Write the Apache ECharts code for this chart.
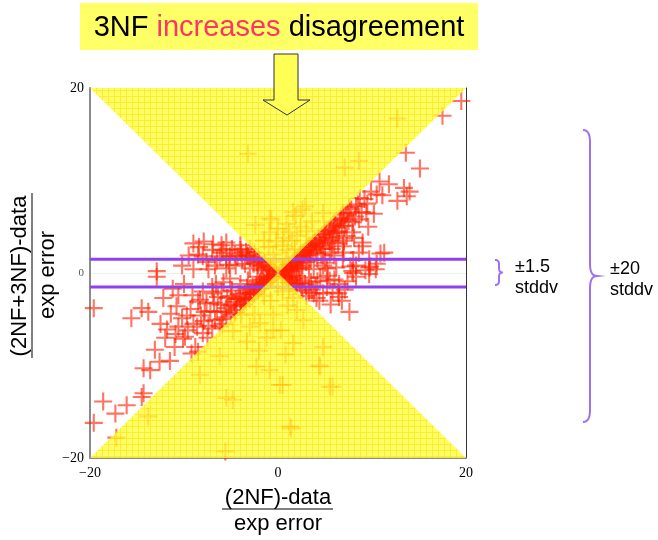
<!DOCTYPE html>
<html>
<head>
<meta charset="utf-8">
<script src="https://cdn.jsdelivr.net/npm/echarts@6/dist/echarts.min.js"></script>
<style>
  html, body { margin: 0; padding: 0; background: #fff; }
  #chart { width: 658px; height: 540px; }
</style>
</head>
<body>
<div id="chart"></div>
<script>
// Axis range and tick labels
const axisMin = -20;
const axisMax = 20;
const tickStep = 20;
// Purple band: ±1.5 standard deviations
const bandHalfWidth = 1.5;

// Scattered errors: [ (2NF)-data , (2NF+3NF)-data ] in units of exp error
const upperRight = [
  [19.5,18.6],[17.5,17.0],[13.6,13.0],[15.1,11.3],[13.4,9.2],[14.0,8.8],[12.7,7.8],[13.7,8.3],
  [11.1,8.4],[9.4,6.5],[8.3,7.2],[7.4,6.5],[6.7,6.0],[11.3,2.2],[9.0,2.9],[8.3,0.8],[9.7,0.6],
  [7.9,0.2],[8.6,5.8],[7.1,5.1],[6.2,4.4],[5.5,4.7],[5.8,3.3],[4.8,2.6],[4.0,2.2],[5.5,2.2],
  [6.9,2.9],[7.9,4.4],[9.0,3.3],[8.6,2.2],[6.9,1.5],[9.7,1.5],[10.4,0.4],[6.2,0.6],[4.8,0.8],
  [3.3,1.5],[2.6,0.8],[1.9,0.4],[9.8,0.7],[10.9,2.1],[8.0,0.0],[9.3,0.3],[7.7,0.7],[10.5,1.0],
  [8.0,1.4],[1.0,0.6],[1.5,1.0],[2.0,1.5],[2.5,1.8],[3.0,2.5],[3.5,2.8],[4.0,3.5],[2.2,0.5],
  [3.0,1.2],[4.5,3.0],[5.0,4.2],[5.5,3.5],[6.0,5.2],[6.5,4.5],[7.0,5.8],[3.8,3.2],[1.2,0.3],
  [2.8,2.0],[4.2,1.5],[5.0,2.8],[6.0,3.8],[7.0,3.5],[8.0,5.5],[9.5,7.5],[10.5,8.5],
  [0.3,0.1],[0.4,0.3],[0.5,0.2],[0.6,0.4],[0.7,0.5],[0.8,0.3],[0.9,0.7],[1.1,0.8],[1.3,0.9],
  [1.4,0.5],[1.6,1.2],[1.7,0.8],[1.9,1.5],[2.1,1.1],[2.3,1.9],[2.4,1.4],[2.6,2.2],[2.7,1.6],
  [2.9,2.4],[3.1,1.9],[3.2,2.8],[3.4,2.2],[3.6,3.1],[3.7,2.5],[3.9,3.4],[4.1,2.9],[4.3,3.8],
  [4.4,3.2],[4.6,4.1],[4.8,3.6],[5.1,4.5],[5.3,3.9],[5.6,5.0],[5.8,4.3],[6.1,5.4],[6.3,4.9],
  [6.6,5.8],[6.8,5.1],[7.2,6.3],[7.5,5.6],[7.8,6.9],[8.2,6.1],[8.5,7.4],[8.9,6.6],[9.2,8.0],
  [1.5,0.2],[2.5,0.6],[3.5,1.4],[4.6,2.0],[5.7,2.6],[6.4,3.2],[7.3,4.0],[3.8,0.4],[5.0,1.1],
  [6.0,1.9],[5.9,5.6],[6.9,6.5],[7.6,7.1],[8.7,8.1],[9.9,8.8],[10.8,9.9],[4.9,4.6],[3.3,3.0],
  [8.1,3.8],[9.6,5.0],[10.2,6.4],[7.0,2.2],[5.2,0.5],[11.8,9.6]
];
const lowerRight = [
  [8.3,-0.4],[9.7,-0.1],[7.6,-4.2],[6.5,-2.6],[5.8,-2.1],[4.4,-3.0],[3.3,-2.1],[2.3,-1.1],
  [5.2,-1.5],[6.4,-2.2],[4.1,-2.7],[1.0,-0.5],[1.5,-0.8],[2.0,-1.2],[2.5,-1.5],[3.0,-2.5],
  [3.5,-1.0],[2.0,-0.3],[4.0,-1.5],[1.2,-1.0],[5.5,-0.8],[6.5,-1.2],[4.5,-0.5],[3.8,-2.2],
  [0.4,-0.2],[0.7,-0.4],[0.9,-0.6],[1.2,-0.4],[1.4,-1.1],[1.7,-0.6],[1.9,-1.4],[2.3,-0.8],
  [2.6,-1.9],[2.9,-1.2],[3.3,-0.5],[3.6,-1.8],[4.2,-0.9],[4.8,-2.2],[5.3,-0.3],[6.0,-0.7],
  [7.1,-1.8],[7.4,-0.9],[5.6,-3.4],[6.8,-3.0]
];
const upperLeft = [
  [-12.9,0.2],[-9.0,0.4],[-5.8,2.5],[-5.1,1.8],[-6.5,1.4],[-3.3,1.9],[-6.0,2.2],[-5.5,1.5],
  [-4.6,2.0],[-3.9,2.2],[-3.2,1.8],[-2.5,1.7],[-2.1,0.8],[-6.7,0.8],[-7.4,0.4],[-1.0,0.6],
  [-1.5,1.2],[-2.0,1.5],[-2.5,2.2],[-3.0,2.6],[-1.8,0.3],[-3.5,1.0],[-4.5,0.8],[-4.0,2.5],
  [-5.5,0.5],[-3.0,0.5],[-6.0,3.0],[-7.0,2.5],[-8.0,1.8],[-8.5,2.0],[-4.0,3.0],[-5.5,3.3],
  [-0.4,0.2],[-0.7,0.4],[-0.9,0.7],[-1.2,0.5],[-1.4,1.0],[-1.7,0.8],[-2.2,1.2],[-2.6,1.0],
  [-2.8,2.0],[-3.4,2.3],[-3.8,1.5],[-4.3,1.8],[-4.9,2.6],[-5.2,0.9],[-6.2,1.8],[-6.9,3.1],
  [-7.6,1.2],[-8.4,2.8],[-9.5,1.9],[-10.2,0.8],[-7.9,3.4],[-9.0,3.2]
];
const lowerLeft = [
  [-12.9,-0.4],[-19.6,-3.8],[-15.6,-4.9],[-14.5,-3.8],[-13.8,-4.2],[-12.2,-2.7],[-10.6,-2.4],
  [-10.2,-4.9],[-10.6,-5.8],[-9.9,-6.9],[-10.1,-7.1],[-11.0,-8.0],[-13.1,-8.3],[-12.6,-9.6],
  [-13.6,-10.5],[-14.3,-10.3],[-8.8,-8.0],[-8.5,-8.5],[-9.2,-8.7],[-18.6,-13.9],[-16.1,-14.3],
  [-17.3,-15.2],[-19.6,-16.2],[-14.3,-13.0],[-14.5,-13.4],[-7.4,-5.7],[-7.8,-4.2],[-8.5,-3.1],
  [-6.0,-2.0],[-5.0,-2.5],[-4.0,-2.8],[-3.0,-1.8],[-2.5,-2.0],[-6.8,-3.2],[-5.5,-3.8],
  [-4.5,-4.0],[-3.5,-3.0],[-7.0,-1.5],[-8.0,-2.0],[-2.0,-1.2],[-1.5,-1.0],[-4.0,-1.2],
  [-5.8,-1.0],[-1.0,-0.8],[-1.5,-1.3],[-2.0,-1.6],[-2.5,-2.2],[-3.0,-2.8],[-3.5,-2.2],
  [-4.0,-3.5],[-4.5,-2.8],[-5.0,-4.5],[-5.5,-4.8],[-6.0,-5.0],[-6.5,-4.2],[-7.0,-6.0],
  [-8.0,-6.5],[-9.0,-5.5],[-7.5,-7.0],[-6.2,-5.8],[-11.5,-9.5],[-12.0,-7.0],[-12.5,-5.5],
  [-0.3,-0.1],[-0.5,-0.3],[-0.6,-0.5],[-0.8,-0.4],[-0.9,-0.7],[-1.1,-0.9],[-1.2,-0.5],
  [-1.4,-1.1],[-1.6,-0.7],[-1.8,-1.5],[-1.9,-1.0],[-2.1,-1.8],[-2.3,-1.3],[-2.6,-2.3],
  [-2.7,-1.5],[-2.9,-2.1],[-3.1,-2.7],[-3.3,-1.6],[-3.4,-2.9],[-3.7,-2.6],[-3.9,-3.3],
  [-4.2,-2.3],[-4.4,-3.6],[-4.7,-3.1],[-4.9,-1.9],[-5.2,-3.5],[-5.4,-2.7],[-5.7,-4.2],
  [-6.1,-3.4],[-6.4,-2.6],[-6.7,-5.1],[-7.2,-4.1],[-7.6,-3.3],[-8.2,-4.6],[-8.6,-5.8],
  [-9.3,-3.9],[-9.6,-6.2],[-10.8,-3.6],[-11.4,-4.4],[-11.8,-6.1],[-9.1,-2.4],[-10.0,-1.2],
  [-11.2,-1.7],[-6.6,-1.2],[-5.1,-0.6],[-3.2,-0.8],[-2.2,-0.4],[-4.6,-4.3],[-5.9,-5.5],
  [-3.6,-3.4],[-7.9,-5.2],[-9.7,-4.6],[-10.9,-6.6],[-6.9,-2.2],[-8.3,-2.9]
];
const coneTop = [
  [12.7,16.7],[7.1,11.4],[8.6,12.1],[-3.2,12.9],[2.6,6.9],[4.8,6.5],[1.9,6.2],[2.9,7.2],
  [1.6,6.6],[-0.9,5.9],[-2.4,5.2],[-0.7,5.8],[-0.9,4.4],[0.5,3.0],[1.0,2.5],[-0.5,2.0],
  [1.5,3.5],[2.0,4.0],[0.0,4.8],[-1.5,3.5],[0.8,1.5],[-0.3,1.2],[1.8,2.6],[3.0,4.5],[-1.0,2.8],
  [0.6,3.8],[1.2,4.4],[2.4,5.0],[-0.2,3.4],[0.9,5.3],[3.6,5.6]
];
const coneBottom = [
  [-8.3,-11.0],[-5.5,-13.5],[-4.8,-13.7],[-5.6,-19.3],[0.2,-12.1],[1.3,-16.6],[5.5,-12.3],
  [4.8,-8.0],[4.5,-10.1],[1.6,-7.6],[-2.3,-10.1],[-0.9,-10.5],[-3.3,-7.4],[-3.9,-4.5],
  [-1.9,-5.4],[-4.8,-6.3],[-0.5,-6.2],[2.7,-5.1],[1.6,-2.7],[-13.8,-15.5],[-17.2,-17.8],
  [4.4,-10.0],[5.8,-12.3],[1.4,-16.8],[0.5,-12.1],[0.3,-6.2],[0.5,-2.0],[-0.8,-3.0],
  [1.0,-3.5],[-1.5,-2.5],[2.0,-4.0],[-2.5,-4.5],[0.0,-1.5],[-0.5,-4.5],[1.2,-1.8],
  [-3.0,-5.8],[-1.2,-7.0],[0.8,-8.8],[-6.2,-9.0],[-2.0,-8.4]
];

const allPoints = [].concat(upperRight, lowerRight, upperLeft, lowerLeft, coneTop, coneBottom);

// Region where |3NF effect| grows: |y| > |x|
const wedgeTop = [[axisMin, axisMax], [0, 0], [axisMax, axisMax]];
const wedgeBottom = [[axisMin, axisMin], [0, 0], [axisMax, axisMin]];

// Small checkered yellow tile for the wedges
function makeTile() {
  const c = document.createElement('canvas');
  c.width = 6; c.height = 6;
  const g = c.getContext('2d');
  g.fillStyle = '#ffff3c';
  g.fillRect(0, 0, 6, 6);
  g.fillStyle = '#ffe600';
  g.fillRect(0, 0, 6, 1);
  g.fillRect(0, 0, 1, 6);
  return c;
}
const tile = makeTile();

// Curly brace "}" as a polyline, from quadratic segments
function bracePoints(xl, xm, xt, yTop, yBot, r) {
  const ym = (yTop + yBot) / 2;
  const pts = [];
  function quad(p0, p1, p2) {
    for (let i = 0; i <= 8; i++) {
      const t = i / 8, u = 1 - t;
      pts.push([u * u * p0[0] + 2 * u * t * p1[0] + t * t * p2[0],
                u * u * p0[1] + 2 * u * t * p1[1] + t * t * p2[1]]);
    }
  }
  quad([xl, yTop], [xm, yTop], [xm, yTop + r]);
  quad([xm, ym - r], [xm, ym], [xt, ym]);
  quad([xt, ym], [xm, ym], [xm, ym + r]);
  quad([xm, yBot - r], [xm, yBot], [xl, yBot]);
  return pts;
}

const crossPath = 'path://M-1.15,-10H1.15V-1.15H10V1.15H1.15V10H-1.15V1.15H-10V-1.15H-1.15Z';
const fmt = v => (v < 0 ? '\u2212' + Math.abs(v) : String(v));

const chart = echarts.init(document.getElementById('chart'), null, { renderer: 'canvas' });

const option = {
  animation: false,
  backgroundColor: '#ffffff',
  grid: { left: 90, right: 192, top: 88, bottom: 82 },
  xAxis: {
    type: 'value', min: axisMin, max: axisMax, interval: tickStep,
    axisLine: { show: true, onZero: false, lineStyle: { color: '#8a8a8a', width: 2 } },
    axisTick: { show: false },
    splitLine: { show: false },
    axisLabel: {
      formatter: fmt, color: '#000', fontSize: 14, margin: 8,
      fontFamily: 'Liberation Serif'
    }
  },
  yAxis: [{
    type: 'value', min: axisMin, max: axisMax, interval: tickStep,
    axisLine: { show: true, onZero: false, lineStyle: { color: '#8a8a8a', width: 2 } },
    axisTick: { show: false },
    splitLine: { show: true, lineStyle: { color: '#eaf5ea', width: 1 } },
    axisLabel: {
      margin: 6,
      fontFamily: 'Liberation Serif',
      formatter: v => (v === 0 ? '{z|0}' : '{n|' + fmt(v) + '}'),
      rich: {
        z: { color: '#555', fontSize: 11, fontFamily: 'Liberation Serif' },
        n: { color: '#000', fontSize: 14, fontFamily: 'Liberation Serif' }
      }
    }
  }, {
    type: 'value', min: axisMin, max: axisMax, interval: tickStep, position: 'right',
    axisLine: { show: true, onZero: false, lineStyle: { color: '#333', width: 1 } },
    axisTick: { show: false }, axisLabel: { show: false }, splitLine: { show: false }
  }],
  series: [
    {
      name: 'errors',
      type: 'scatter',
      z: 2,
      data: allPoints,
      symbol: crossPath,
      symbolSize: 18,
      itemStyle: { color: 'rgba(255,30,0,0.78)' }
    },
    {
      name: 'band+',
      type: 'line', z: 3, symbol: 'none', silent: true,
      data: [[axisMin, bandHalfWidth], [axisMax, bandHalfWidth]],
      lineStyle: { color: '#9140ef', width: 3 }
    },
    {
      name: 'band-',
      type: 'line', z: 3, symbol: 'none', silent: true,
      data: [[axisMin, -bandHalfWidth], [axisMax, -bandHalfWidth]],
      lineStyle: { color: '#9140ef', width: 3 }
    },
    {
      name: 'wedgeTop',
      type: 'line', z: 4, symbol: 'none', silent: true,
      data: wedgeTop,
      lineStyle: { width: 0 },
      areaStyle: { origin: 'end', color: { image: tile, repeat: 'repeat' }, opacity: 0.8 }
    },
    {
      name: 'wedgeBottom',
      type: 'line', z: 4, symbol: 'none', silent: true,
      data: wedgeBottom,
      lineStyle: { width: 0 },
      areaStyle: { origin: 'start', color: { image: tile, repeat: 'repeat' }, opacity: 0.8 }
    }
  ],
  graphic: [
    // Title banner
    {
      type: 'rect', z: 20,
      shape: { x: 80, y: 3, width: 398, height: 47 },
      style: { fill: '#ffff66' }
    },
    {
      type: 'text', z: 21, x: 279, y: 28,
      style: {
        text: '{a|3NF }{b|increases}{a| disagreement}',
        align: 'center', verticalAlign: 'middle',
        rich: {
          a: { fill: '#000', fontSize: 29, fontFamily: 'Liberation Sans' },
          b: { fill: '#ff3366', fontSize: 29, fontFamily: 'Liberation Sans' }
        }
      }
    },
    // Down arrow
    {
      type: 'polygon', z: 20,
      shape: { points: [[274,54],[298,54],[298,100],[310,100],[287,115],[263,100],[274,100]] },
      style: { fill: '#ffff55', stroke: '#333', lineWidth: 1 }
    },
    // Axis titles
    {
      type: 'text', z: 20, x: 278, y: 498,
      style: { text: '(2NF)-data', align: 'center', verticalAlign: 'middle', fill: '#000', fontSize: 22, fontFamily: 'Liberation Sans' }
    },
    {
      type: 'line', z: 20, shape: { x1: 222, y1: 509, x2: 333, y2: 509 },
      style: { stroke: '#000', lineWidth: 1 }
    },
    {
      type: 'text', z: 20, x: 278, y: 524,
      style: { text: 'exp error', align: 'center', verticalAlign: 'middle', fill: '#000', fontSize: 22, fontFamily: 'Liberation Sans' }
    },
    {
      type: 'text', z: 20, x: 20, y: 276, rotation: Math.PI / 2,
      style: { text: '(2NF+3NF)-data', align: 'center', verticalAlign: 'middle', fill: '#000', fontSize: 22, fontFamily: 'Liberation Sans' }
    },
    {
      type: 'line', z: 20, shape: { x1: 32, y1: 193, x2: 32, y2: 358 },
      style: { stroke: '#000', lineWidth: 1 }
    },
    {
      type: 'text', z: 20, x: 48, y: 275, rotation: Math.PI / 2,
      style: { text: 'exp error', align: 'center', verticalAlign: 'middle', fill: '#000', fontSize: 22, fontFamily: 'Liberation Sans' }
    },
    // Braces with annotations
    {
      type: 'polyline', z: 20,
      shape: { points: bracePoints(495, 499, 503, 260, 285, 4) },
      style: { stroke: '#a070f0', lineWidth: 2, fill: null }
    },
    {
      type: 'text', z: 20, x: 515, y: 267,
      style: { text: '\u00b11.5', verticalAlign: 'middle', fill: '#000', fontSize: 18, fontFamily: 'Liberation Sans' }
    },
    {
      type: 'text', z: 20, x: 515, y: 288,
      style: { text: 'stddv', verticalAlign: 'middle', fill: '#000', fontSize: 18, fontFamily: 'Liberation Sans' }
    },
    {
      type: 'polyline', z: 20,
      shape: { points: bracePoints(583, 590, 597, 130, 422, 12) },
      style: { stroke: '#a070f0', lineWidth: 2, fill: null }
    },
    {
      type: 'text', z: 20, x: 610, y: 269,
      style: { text: '\u00b120', verticalAlign: 'middle', fill: '#000', fontSize: 18, fontFamily: 'Liberation Sans' }
    },
    {
      type: 'text', z: 20, x: 610, y: 290,
      style: { text: 'stddv', verticalAlign: 'middle', fill: '#000', fontSize: 18, fontFamily: 'Liberation Sans' }
    }
  ]
};

chart.setOption(option);
</script>
</body>
</html>
